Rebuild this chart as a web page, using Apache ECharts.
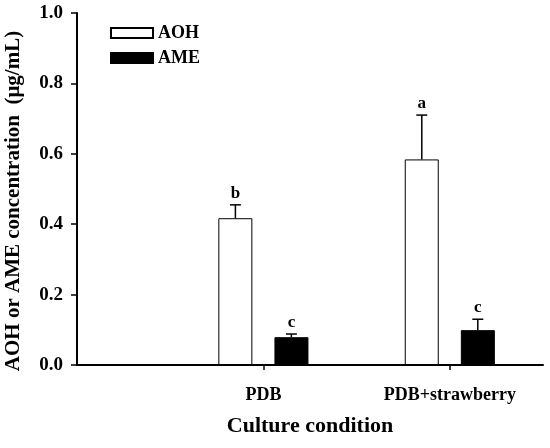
<!DOCTYPE html>
<html>
<head>
<meta charset="utf-8">
<script src="https://cdn.jsdelivr.net/npm/echarts@6/dist/echarts.min.js"></script>
<style>html,body{margin:0;padding:0;background:#fff}#c{width:550px;height:448px}</style>
</head>
<body>
<div id="c"></div>
<script>
const categories = ['PDB', 'PDB+strawberry'];
const aohMean = [0.417, 0.584];
const aohErr = [0.038, 0.126];
const aohLetters = ['b', 'a'];
const ameMean = [0.079, 0.099];
const ameErr = [0.009, 0.031];
const ameLetters = ['c', 'c'];
const yTicks = [0, 0.2, 0.4, 0.6, 0.8, 1.0];

// category slots: axis spans 0..2.5 with conditions at 1 and 2
const slots = ['', '', categories[0], '', categories[1], ''];
const slotIndex = [2, 4];
function slotData(vals) {
  const d = slots.map(() => '-');
  vals.forEach((v, i) => { d[slotIndex[i]] = v; });
  return d;
}
const FONT = '"Liberation Serif", "Times New Roman", serif';
const BAR_W = 34, OFFSET = 28;

function errSeries(name, means, errs, letters, dx) {
  return {
    type: 'custom',
    name: name + '_err',
    silent: true,
    z: 5,
    data: means.map((m, i) => [slotIndex[i], m, errs[i], letters[i]]),
    renderItem: function (params, api) {
      const x = api.value(0), m = api.value(1), e = api.value(2);
      const p0 = api.coord([x, m]);
      const p1 = api.coord([x, m + e]);
      const cx = p0[0] + dx;
      const st = { stroke: '#000', lineWidth: 1.5 };
      return {
        type: 'group',
        children: [
          { type: 'line', shape: { x1: cx, y1: p0[1], x2: cx, y2: p1[1] }, style: st },
          { type: 'line', shape: { x1: cx - 5.5, y1: p1[1], x2: cx + 5.5, y2: p1[1] }, style: st },
          { type: 'text', style: { x: cx, y: p1[1] - 3, text: letters[params.dataIndex], fill: '#000',
              font: 'bold 17px ' + FONT, textAlign: 'center', textVerticalAlign: 'bottom' } }
        ]
      };
    }
  };
}

const chart = echarts.init(document.getElementById('c'));
chart.setOption({
  animation: false,
  backgroundColor: '#fff',
  grid: { left: 77, right: 7, top: 13, bottom: 83, containLabel: false, outerBoundsMode: 'none' },
  legend: {
    orient: 'vertical', left: 110, top: 24, padding: 0,
    itemWidth: 42, itemHeight: 10, itemGap: 7, icon: 'rect',
    data: ['AOH', 'AME'],
    textStyle: { fontFamily: FONT, fontWeight: 'bold', fontSize: 18, color: '#000', lineHeight: 18 }
  },
  xAxis: {
    type: 'category', boundaryGap: false, data: slots,
    name: 'Culture condition', nameLocation: 'middle', nameGap: 50,
    nameTextStyle: { fontFamily: FONT, fontWeight: 'bold', fontSize: 22, color: '#000' },
    axisLine: { lineStyle: { color: '#000', width: 2 } },
    axisTick: { inside: false, length: 5, lineStyle: { color: '#000', width: 1.5 },
      interval: function (i, v) { return v !== ''; } },
    axisLabel: { interval: 0, margin: 21, fontFamily: FONT, fontWeight: 'bold', fontSize: 18, color: '#000' },
    splitLine: { show: false }
  },
  yAxis: {
    type: 'value', min: 0, max: 1, interval: 0.2,
    name: 'AOH or AME concentration  (μg/mL)', nameLocation: 'middle', nameGap: 53,
    nameTextStyle: { fontFamily: FONT, fontWeight: 'bold', fontSize: 21, color: '#000', padding: [0, 24, 0, 0] },
    axisLine: { show: true, lineStyle: { color: '#000', width: 2 } },
    axisTick: { show: true, inside: false, length: 6, lineStyle: { color: '#000', width: 1.5 } },
    axisLabel: { margin: 14, fontFamily: FONT, fontWeight: 'bold', fontSize: 19, color: '#000',
      formatter: function (v) { return yTicks.indexOf(+v.toFixed(1)) >= 0 ? v.toFixed(1) : ''; } },
    splitLine: { show: false }
  },
  series: [
    { type: 'bar', name: 'AOH', data: slotData(aohMean), barWidth: BAR_W, barGap: '65%',
      itemStyle: { color: '#fff', borderColor: '#000', borderWidth: 1 } },
    { type: 'bar', name: 'AME', data: slotData(ameMean), barWidth: BAR_W, barGap: '65%',
      itemStyle: { color: '#000', borderColor: '#000', borderWidth: 1 } },
    errSeries('AOH', aohMean, aohErr, aohLetters, -OFFSET),
    errSeries('AME', ameMean, ameErr, ameLetters, OFFSET)
  ]
});
</script>
</body>
</html>
